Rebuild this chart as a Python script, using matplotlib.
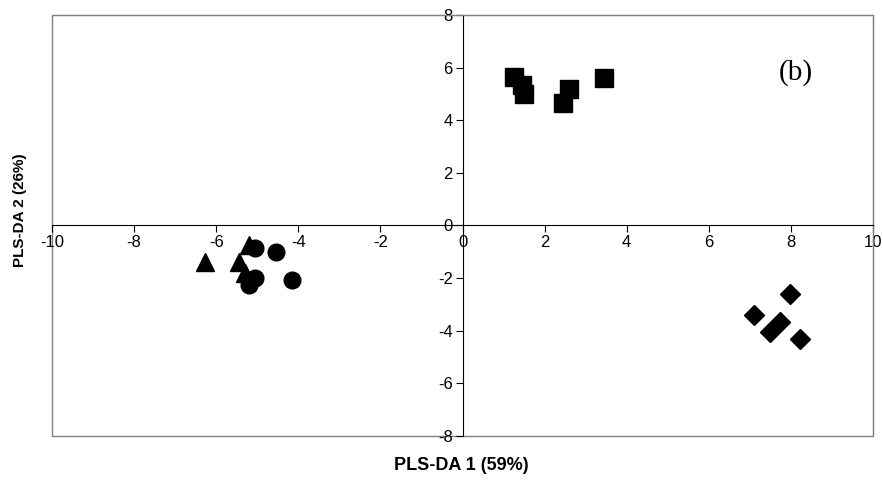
import matplotlib
matplotlib.use("Agg")
import matplotlib.pyplot as plt
from matplotlib.patches import Rectangle

plt.rcParams['font.family'] = ['Liberation Sans', 'DejaVu Sans']

sq_x = [1.25, 1.45, 1.5, 2.45, 2.6, 3.45]
sq_y = [5.65, 5.35, 5.0, 4.65, 5.2, 5.6]
di_x = [7.97, 7.1, 7.73, 7.5, 8.22]
di_y = [-2.6, -3.4, -3.65, -4.05, -4.3]
tr_x = [-6.28, -5.45, -5.3, -5.2]
tr_y = [-1.4, -1.4, -1.8, -0.75]
ci_x = [-5.05, -4.55, -5.05, -5.2, -4.15]
ci_y = [-0.85, -1.0, -2.0, -2.25, -2.08]
xticks = [-10, -8, -6, -4, -2, 0, 2, 4, 6, 8, 10]
yticks = [-8, -6, -4, -2, 0, 2, 4, 6, 8]

fig = plt.figure(figsize=(8.83, 4.83), dpi=100)
ax = fig.add_axes([0.0589, 0.0973, 0.9298, 0.8717])
ax.set_xlim(-10, 10)
ax.set_ylim(-8, 8)

ax.plot(sq_x, sq_y, 's', color='black', markersize=13, linestyle='none')
ax.plot(di_x, di_y, 'D', color='black', markersize=10, linestyle='none')
ax.plot(tr_x, tr_y, '^', color='black', markersize=12.5, linestyle='none')
ax.plot(ci_x, ci_y, 'o', color='black', markersize=12, linestyle='none')

for s in ['top', 'right']:
    ax.spines[s].set_color('#808080')
ax.spines['left'].set_position(('data', 0))
ax.spines['bottom'].set_position(('data', 0))
ax.spines['left'].set_color('black')
ax.spines['bottom'].set_color('black')
ax.add_patch(Rectangle((0, 0), 1, 1, transform=ax.transAxes, fill=False,
                       edgecolor='#808080', linewidth=1, clip_on=False, zorder=0))

ax.set_xticks(xticks)
ax.set_yticks(yticks)
ax.set_xticklabels([str(t) for t in xticks])
ax.set_yticklabels([str(t) for t in yticks])
ax.tick_params(direction='out', length=5, width=0.8, labelsize=12, pad=2)

fig.text(0.523, 0.037, 'PLS-DA 1 (59%)', ha='center', va='center',
         fontsize=13, fontweight='bold')
fig.text(0.023, 0.565, 'PLS-DA 2 (26%)', ha='center', va='center',
         fontsize=11, fontweight='bold', rotation=90)
ax.text(8.11, 5.82, '(b)', fontsize=21, family='Liberation Serif',
        ha='center', va='center')

fig.savefig('out.png', dpi=100)
